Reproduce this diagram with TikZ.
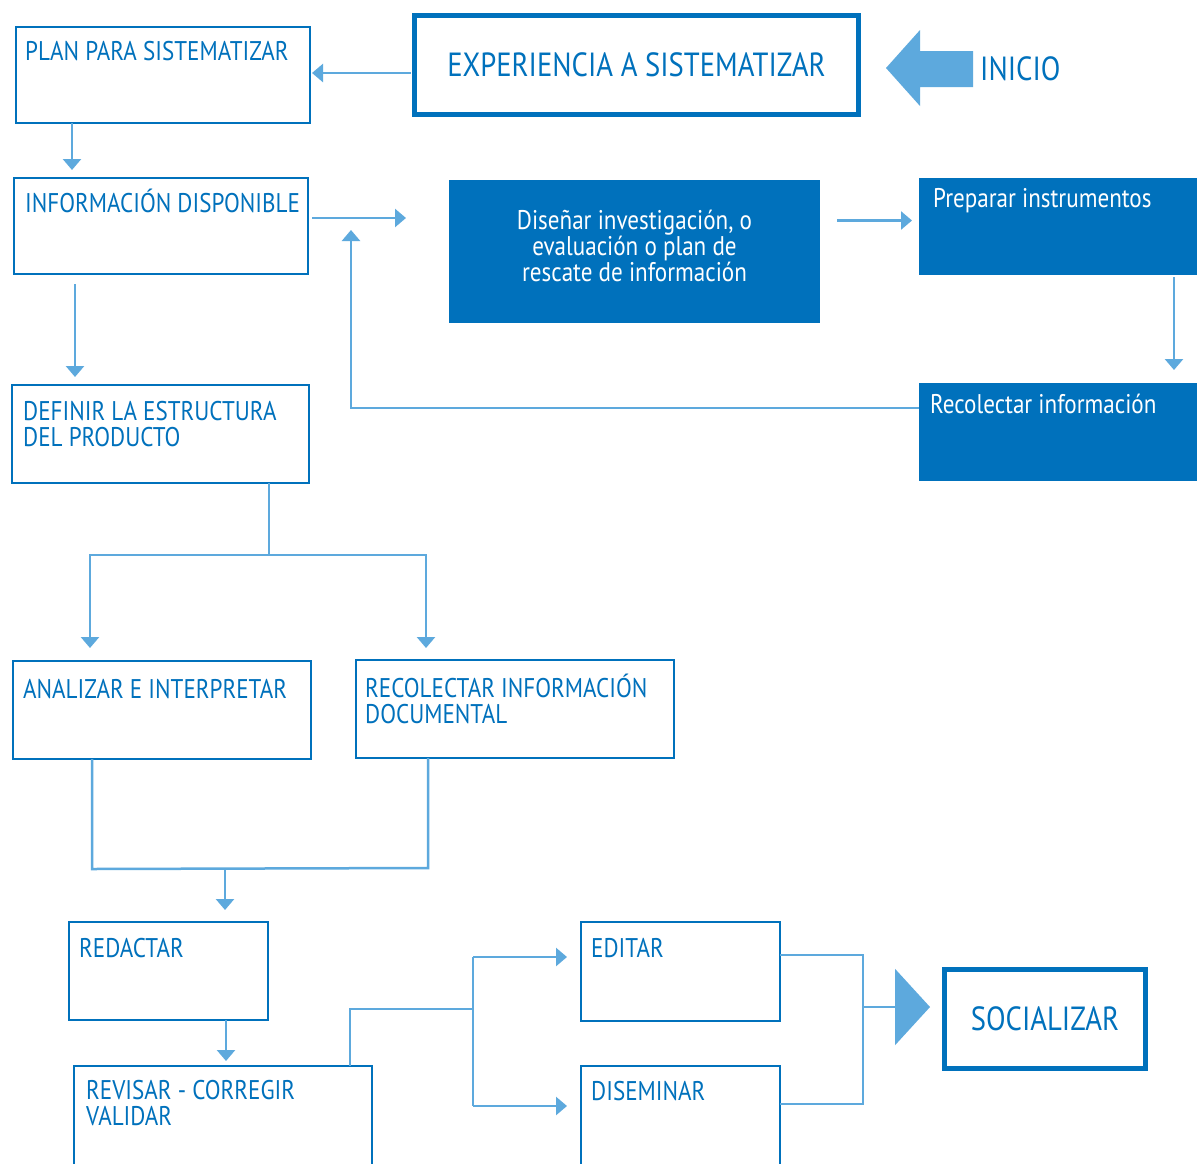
\documentclass[tikz,border=0pt]{standalone}
\usepackage{fontspec}
\setmainfont{PT Sans}[FakeStretch=0.855]
\usetikzlibrary{arrows.meta,calc}
\definecolor{dkb}{HTML}{0071BC}
\definecolor{ltb}{HTML}{5DA9DD}
\begin{document}
\begin{tikzpicture}[x=1pt,y=-1pt,
  box/.style={draw=dkb, line width=2.5pt, outer sep=0pt, inner sep=0pt, rectangle},
  tbox/.style={draw=dkb, line width=5pt, outer sep=0pt, inner sep=0pt, rectangle, text=dkb,
     font=\fontsize{33.5}{33.5}\selectfont},
  fbox/.style={fill=dkb, outer sep=0pt, inner sep=0pt, rectangle},
  lbl/.style={anchor=north west, inner sep=0pt, align=left, text=dkb, font=\fontsize{27}{26}\selectfont},
  wlbl/.style={lbl, text=white},
  conn/.style={draw=ltb, line width=2.5pt},
  arr/.style={conn, -{Triangle[length=11pt,width=18pt]}},
]
\useasboundingbox (0,0) rectangle (1197,1163);
\clip (0,0) rectangle (1197,1163);
\fill[white] (0,0) rectangle (1197,1163);

% boxes
\node[box, minimum width=294, minimum height=96,
  label={[lbl, xshift=9, yshift=-11]north west:\rule{0pt}{22pt}PLAN PARA SISTEMATIZAR}] (plan) at (163,75) {};
\node[tbox, minimum width=444, minimum height=99] (exp) at (636.5,65) {EXPERIENCIA A SISTEMATIZAR};
\node[box, minimum width=294, minimum height=96,
  label={[lbl, xshift=11, yshift=-11]north west:\rule{0pt}{22pt}INFORMACIÓN DISPONIBLE}] (info) at (161,226) {};
\node[fbox, minimum width=371, minimum height=143,
  label={[lbl, anchor=center, align=center, text=white, yshift=6]center:Diseñar investigación, o\\evaluación o plan de\\rescate de información}] (dis) at (634.5,251.5) {};
\node[fbox, minimum width=281, minimum height=97,
  label={[wlbl, xshift=14, yshift=-7]north west:\rule{0pt}{22pt}Preparar instrumentos}] (prep) at (1059.5,226.5) {};
\node[fbox, minimum width=281, minimum height=98,
  label={[wlbl, xshift=11, yshift=-8]north west:\rule{0pt}{22pt}Recolectar información}] (recol) at (1059.5,432) {};
\node[box, minimum width=297, minimum height=98,
  label={[lbl, xshift=11, yshift=-13]north west:\rule{0pt}{22pt}DEFINIR LA ESTRUCTURA\\DEL PRODUCTO}] (def) at (160.5,434) {};
\node[box, minimum width=298, minimum height=98,
  label={[lbl, xshift=10, yshift=-15]north west:\rule{0pt}{22pt}ANALIZAR E INTERPRETAR}] (ana) at (162,710) {};
\node[box, minimum width=318, minimum height=98,
  label={[lbl, xshift=9, yshift=-14]north west:\rule{0pt}{22pt}RECOLECTAR INFORMACIÓN\\DOCUMENTAL}] (rdoc) at (515,709) {};
\node[box, minimum width=199, minimum height=98,
  label={[lbl, xshift=10, yshift=-13]north west:\rule{0pt}{22pt}REDACTAR}] (red) at (168.5,971) {};
\node[box, minimum width=298, minimum height=120,
  label={[lbl, xshift=12, yshift=-11]north west:\rule{0pt}{22pt}REVISAR - CORREGIR\\VALIDAR}] (rev) at (223,1126) {};
\node[box, minimum width=199, minimum height=99,
  label={[lbl, xshift=10, yshift=-13]north west:\rule{0pt}{22pt}EDITAR}] (edit) at (680.5,971.5) {};
\node[box, minimum width=199, minimum height=120,
  label={[lbl, xshift=10, yshift=-12]north west:\rule{0pt}{22pt}DISEMINAR}] (dise) at (680.5,1126) {};
\node[tbox, minimum width=201, minimum height=99] (soc) at (1045,1019) {SOCIALIZAR};

% INICIO
\node[anchor=west, inner sep=0pt, text=dkb, font=\fontsize{33.5}{33.5}\selectfont] (ini) at (980,69) {INICIO};
\fill[ltb] (886,68) -- (920,30) -- (920,51) -- (973,51) -- (973,87) -- (920,87) -- (920,106) -- cycle;

% connectors
\draw[arr, shorten <=4pt, shorten >=2pt] ($(exp.west)+(0,8)$) -- ({$(exp.west)+(0,8)$} -| plan.east);
\draw[arr, shorten >=8pt] ($(plan.south west)+(56,0)$) -- ({$(plan.south west)+(56,0)$} |- info.north);
\draw[arr, shorten <=4pt, shorten >=43pt] ($(info.east)+(0,-8)$) -- ({$(info.east)+(0,-8)$} -| dis.west);
\draw[arr, shorten <=17pt, shorten >=7pt] ($(dis.east)+(0,-31)$) -- ({$(dis.east)+(0,-31)$} -| prep.west);
\draw[arr, shorten <=2pt, shorten >=13pt] ($(prep.south west)+(255,0)$) -- ({$(prep.south west)+(255,0)$} |- recol.north);
\draw[arr, shorten >=4pt] ($(recol.west)+(0,-24)$) -| ($(info.east)+(43,0)$);
\draw[arr, shorten <=10pt, shorten >=8pt] ($(info.south west)+(61,0)$) -- ({$(info.south west)+(61,0)$} |- def.north);
\draw[conn] ($(def.south west)+(257,0)$) coordinate (d0) -- (d0 |- 0,555) coordinate (d1);
\draw[arr, shorten >=13pt] (d1) -| ($(ana.north west)+(77,0)$);
\draw[arr, shorten >=12pt] (d1) -| ($(rdoc.north west)+(70,0)$);
\draw[conn] ($(ana.south west)+(79,0)$) -- ++(0,110) -- ($(rdoc.south west)+(72,110)$) -- ($(rdoc.south west)+(72,0)$);
\draw[arr, shorten >=12pt] ($(red.north west)+(156,-53)$) -- ($(red.north west)+(156,0)$);
\draw[arr, shorten >=5pt] ($(red.south west)+(157,0)$) -- ({$(red.south west)+(157,0)$} |- rev.north);
\draw[conn] ($(rev.north west)+(276,0)$) |- ($(edit.west)+(-108,37.5)$);
\draw[conn] ($(edit.west)+(-108,-14.5)$) -- ($(dise.west)+(-108,-20)$);
\draw[arr, shorten >=14pt] ($(edit.west)+(-108,-14.5)$) -- ($(edit.west)+(0,-14.5)$);
\draw[arr, shorten >=14pt] ($(dise.west)+(-108,-20)$) -- ($(dise.west)+(0,-20)$);
\draw[conn] ($(edit.east)+(0,-16.5)$) -| ($(dise.east)+(83,-22)$) -- ($(dise.east)+(0,-22)$);
\draw[conn, -{Triangle[length=35pt,width=76pt]}, shorten >=14.5pt] ($(soc.west)+(-81.5,-12)$) -- ($(soc.west)+(0,-12)$);
\end{tikzpicture}
\end{document}
